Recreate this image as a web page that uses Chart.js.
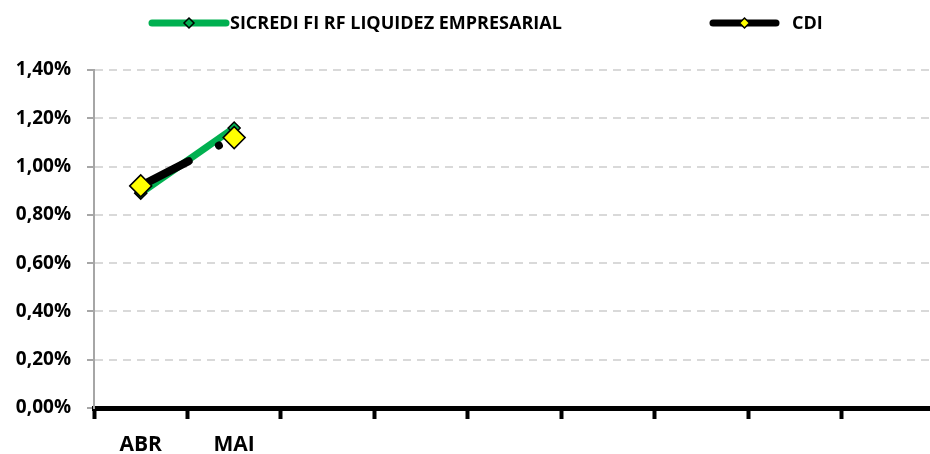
<!DOCTYPE html>
<html>
<head>
<meta charset="utf-8">
<script src="https://cdn.jsdelivr.net/npm/chart.js@4/dist/chart.umd.min.js"></script>
<style>
  html, body { margin: 0; padding: 0; background: #fff; overflow: hidden; }
  #wrap { width: 935px; height: 454px; }
</style>
</head>
<body>
<div id="wrap"><canvas id="chart"></canvas></div>
<script>
// months shown on the axis (9 slots, only two filled)
var months = ['ABR', 'MAI', '', '', '', '', '', '', ''];
var sicredi = [0.89, 1.16];
var cdi = [0.92, 1.12];
var yTicks = [0, 0.2, 0.4, 0.6, 0.8, 1.0, 1.2, 1.4];

var FONT = "'Open Sans', 'Liberation Sans', sans-serif";

// legend drawn by hand so the line + diamond swatch looks like the original
var legendPlugin = {
    id: 'excelLegend',
    afterDraw: function(chart) {
        var ctx = chart.ctx;
        var items = [
            {x1: 152, x2: 226, color: '#00b050', mark: '#00b050', r: 5, text: 'SICREDI FI RF LIQUIDEZ EMPRESARIAL', tx: 230},
            {x1: 713, x2: 776, color: '#000000', mark: '#ffff00', r: 5, text: 'CDI', tx: 792}
        ];
        var y = 23;
        ctx.save();
        items.forEach(function(it) {
            ctx.strokeStyle = it.color;
            ctx.lineWidth = 7;
            ctx.lineCap = 'round';
            ctx.beginPath();
            ctx.moveTo(it.x1, y);
            ctx.lineTo(it.x2, y);
            ctx.stroke();
            var cx = (it.x1 + it.x2) / 2;
            ctx.beginPath();
            ctx.moveTo(cx, y - it.r);
            ctx.lineTo(cx + it.r, y);
            ctx.lineTo(cx, y + it.r);
            ctx.lineTo(cx - it.r, y);
            ctx.closePath();
            ctx.fillStyle = it.mark;
            ctx.fill();
            ctx.lineWidth = 1.5;
            ctx.strokeStyle = '#000';
            ctx.stroke();
            ctx.fillStyle = '#000';
            ctx.font = 'bold 18px ' + FONT;
            ctx.textBaseline = 'middle';
            ctx.textAlign = 'left';
            ctx.fillText(it.text, it.tx, y + 1);
        });
        ctx.restore();
    }
};

window.onload = function() {
    var ctx = document.getElementById('chart').getContext('2d');
    window.myChart = new Chart(ctx, {
        type: 'line',
        data: {
            labels: months,
            datasets: [{
                label: 'SICREDI FI RF LIQUIDEZ EMPRESARIAL',
                data: sicredi,
                borderColor: '#00b050',
                borderWidth: 7,
                pointStyle: 'rectRot',
                pointRadius: 6,
                pointBackgroundColor: '#00b050',
                pointBorderColor: '#000',
                pointBorderWidth: 1.5,
                order: 1
            },
            {
                label: 'CDI',
                data: cdi,
                borderColor: '#000',
                borderWidth: 8,
                borderCapStyle: 'round',
                borderDash: [54, 34, 0.01, 300],
                pointStyle: 'rectRot',
                pointRadius: 11,
                pointBackgroundColor: '#ffff00',
                pointBorderColor: '#000',
                pointBorderWidth: 1.5,
                order: 0
            }]
        },
        options: {
            responsive: true,
            maintainAspectRatio: false,
            animation: false,
            layout: {autoPadding: false, padding: {top: 70, left: 0, right: 0, bottom: 0}},
            plugins: {
                legend: {display: false},
                tooltip: {enabled: false}
            },
            scales: {
                x: {
                    offset: true,
                    afterFit: function(scale) {
                        scale.height = 46;
                        scale.paddingLeft = 0;
                        scale.paddingRight = 0;
                    },
                    grid: {
                        offset: true,
                        drawOnChartArea: false,
                        drawTicks: true,
                        tickLength: 11,
                        tickWidth: 4,
                        tickColor: '#000'
                    },
                    border: {color: '#000', width: 5},
                    ticks: {
                        color: '#000',
                        padding: 13,
                        autoSkip: false,
                        maxRotation: 0,
                        font: {family: FONT, size: 21, weight: 'bold'}
                    }
                },
                y: {
                    min: 0,
                    max: 1.4,
                    afterFit: function(scale) { scale.width = 94; },
                    afterBuildTicks: function(scale) {
                        scale.ticks = yTicks.map(function(v) { return {value: v}; });
                    },
                    grid: {
                        color: '#d9d9d9',
                        lineWidth: 2,
                        tickLength: 7,
                        tickColor: '#a6a6a6',
                        tickWidth: 2,
                        tickBorderDash: []
                    },
                    border: {color: '#a6a6a6', width: 2, dash: [8, 6]},
                    ticks: {
                        color: '#000',
                        padding: 16,
                        font: {family: FONT, size: 19, weight: 'bold'},
                        callback: function(v) { return v.toFixed(2).replace('.', ',') + '%'; }
                    }
                }
            }
        },
        plugins: [legendPlugin]
    });
};
</script>
</body>
</html>
